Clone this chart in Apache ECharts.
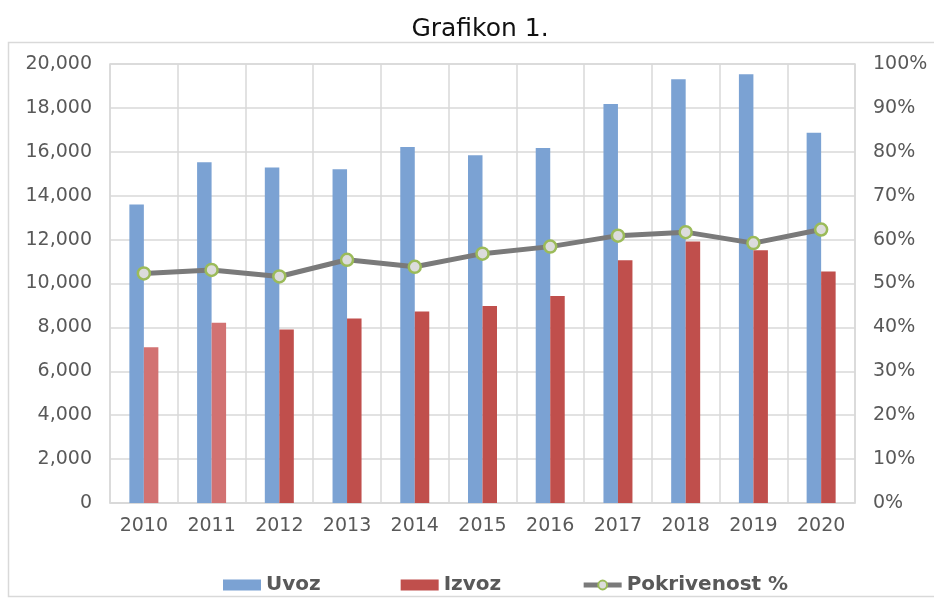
<!DOCTYPE html>
<html>
<head>
<meta charset="UTF-8">
<title>Grafikon 1.</title>
<script src="https://cdn.jsdelivr.net/npm/echarts@6/dist/echarts.min.js"></script>
<style>
  html, body { margin: 0; padding: 0; background: #fff; }
  #chart { width: 934px; height: 599px; }
</style>
</head>
<body>
<div id="chart"></div>
<script>
// godine
var godine = ['2010', '2011', '2012', '2013', '2014', '2015', '2016', '2017', '2018', '2019', '2020'];
// uvoz / izvoz (procjena s grafikona)
var uvoz = [13600, 15520, 15290, 15200, 16220, 15840, 16170, 18180, 19300, 19530, 16870];
var izvoz = [7090, 8210, 7900, 8400, 8720, 8980, 9430, 11060, 11910, 11510, 10550];
// pokrivenost uvoza izvozom, %
var pokrivenost = [52.3, 53.1, 51.6, 55.4, 53.8, 56.8, 58.4, 60.9, 61.7, 59.2, 62.3];

var txt = '#595959';
var gridCol = '#d9d9d9';
var font = 'DejaVu Sans';

var myChart = echarts.init(document.getElementById('chart'), null, { renderer: 'canvas' });

var option = {
  backgroundColor: '#fff',
  animation: false,
  title: {
    text: 'Grafikon 1.',
    left: 475,
    textAlign: 'center',
    top: 12,
    textStyle: { fontFamily: font, fontSize: 25, fontWeight: 'normal', color: '#111' }
  },
  graphic: [{
    type: 'rect',
    shape: { x: 8.5, y: 42.5, width: 940, height: 554 },
    style: { fill: 'none', stroke: '#d9d9d9', lineWidth: 1.5 },
    silent: true
  }],
  legend: {
    top: 570,
    left: 218,
    itemGap: 80,
    itemWidth: 38,
    itemHeight: 11,
    textStyle: { fontFamily: font, fontSize: 20, fontWeight: 'bold', color: txt },
    data: [
      { name: 'Uvoz', icon: 'rect' },
      { name: 'Izvoz', icon: 'rect' },
      { name: 'Pokrivenost %', lineStyle: { width: 5, color: '#7a7a7a' } }
    ]
  },
  grid: {
    left: 110, right: 79, top: 64, bottom: 96,
    show: true, borderColor: gridCol, borderWidth: 1.5
  },
  xAxis: {
    type: 'category',
    data: godine,
    axisLine: { lineStyle: { color: gridCol, width: 1.5 } },
    axisTick: { show: false },
    axisLabel: { fontFamily: font, fontSize: 19, color: txt, margin: 14 },
    splitLine: { show: true, lineStyle: { color: gridCol, width: 1.5 } }
  },
  yAxis: [{
    type: 'value',
    min: 0, max: 20000, interval: 2000,
    axisLine: { show: false },
    axisTick: { show: false },
    axisLabel: {
      fontFamily: font, fontSize: 19, color: txt, margin: 18,
      formatter: function (v) { return v.toLocaleString('en-US'); }
    },
    splitLine: { lineStyle: { color: gridCol, width: 1.5 } }
  }, {
    type: 'value',
    min: 0, max: 100, interval: 10,
    axisLine: { show: false },
    axisTick: { show: false },
    axisLabel: { fontFamily: font, fontSize: 19, color: txt, margin: 18, formatter: '{value}%' },
    splitLine: { show: false }
  }],
  series: [{
    name: 'Uvoz',
    type: 'bar',
    data: uvoz,
    barWidth: 14.5,
    barGap: '0%',
    itemStyle: { color: '#7ba2d3' }
  }, {
    name: 'Izvoz',
    type: 'bar',
    data: izvoz.map(function (v, i) {
      // prve dvije godine su na originalu svjetlije
      return i < 2 ? { value: v, itemStyle: { color: '#d27272' } } : v;
    }),
    barWidth: 14.5,
    itemStyle: { color: '#c04f4c' }
  }, {
    name: 'Pokrivenost %',
    type: 'line',
    yAxisIndex: 1,
    data: pokrivenost,
    symbol: 'circle',
    symbolSize: 12,
    lineStyle: { color: '#7a7a7a', width: 5 },
    itemStyle: { color: '#dcdcdc', borderColor: '#9bbb59', borderWidth: 2.5 }
  }]
};
myChart.setOption(option);
</script>
</body>
</html>
